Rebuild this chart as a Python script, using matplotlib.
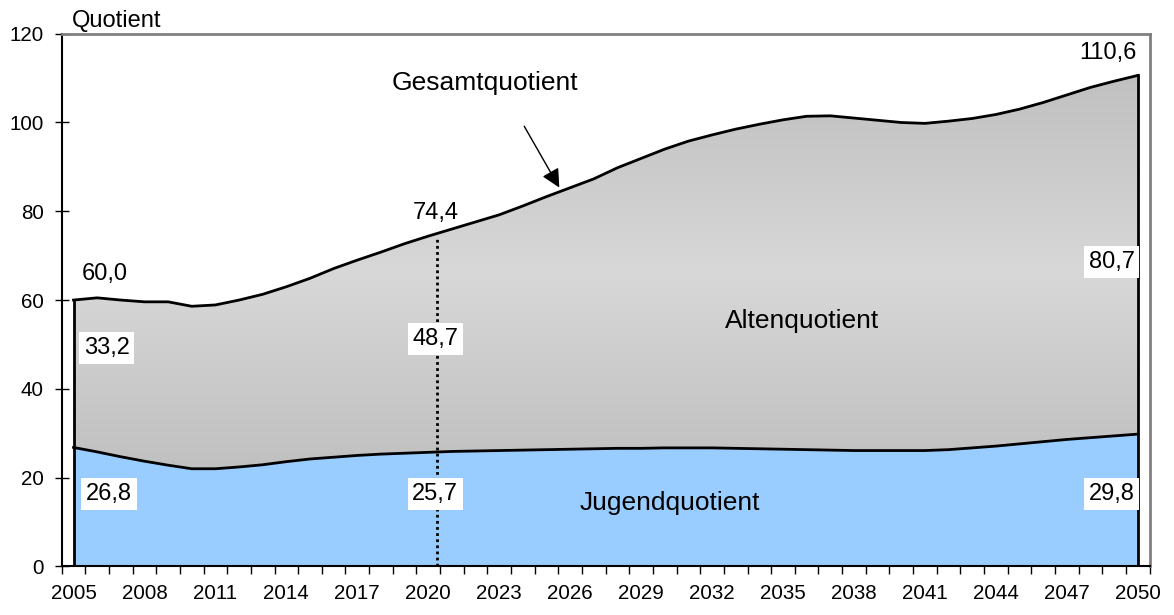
import matplotlib.pyplot as plt
import numpy as np

plt.rcParams['font.family'] = ['Liberation Sans', 'DejaVu Sans']

years = np.arange(2005, 2051)
gesamt = [60.0, 60.5, 60.0, 59.6, 59.6, 58.6, 58.9, 60.0, 61.3, 63.0,
          64.9, 67.1, 69.0, 70.8, 72.7, 74.4, 76.0, 77.6, 79.2, 81.2,
          83.3, 85.3, 87.3, 89.8, 91.9, 94.0, 95.8, 97.2, 98.5, 99.6,
          100.6, 101.4, 101.5, 101.0, 100.5, 100.0, 99.8, 100.3, 100.9, 101.8,
          103.0, 104.5, 106.2, 107.9, 109.3, 110.6]
jugend = [26.8, 25.8, 24.7, 23.7, 22.8, 22.0, 22.0, 22.4, 22.9, 23.6,
          24.2, 24.6, 25.0, 25.3, 25.5, 25.7, 25.9, 26.0, 26.1, 26.2,
          26.3, 26.4, 26.5, 26.6, 26.6, 26.7, 26.7, 26.7, 26.6, 26.5,
          26.4, 26.3, 26.2, 26.1, 26.1, 26.1, 26.1, 26.3, 26.7, 27.1,
          27.6, 28.1, 28.6, 29.0, 29.4, 29.8]

label_years = [2005, 2020, 2050]
gesamt_labels = ['60,0', '74,4', '110,6']
alten_labels = ['33,2', '48,7', '80,7']
jugend_labels = ['26,8', '25,7', '29,8']
tick_years = years[::3]

fig = plt.figure(figsize=(11.74, 6.15), dpi=100)
ax = fig.add_axes([0.05256, 0.0790, 0.9266, 0.8662])

# youth area
ax.fill_between(years, 0, jugend, color='#99CCFF', lw=0, zorder=1)

# old-age area with a centred grey gradient
lo, hi = min(jugend), max(gesamt)
yy = np.linspace(lo, hi, 256)
t = np.abs(yy - (lo + hi) / 2) / ((hi - lo) / 2)
shade = (216 - 24 * t) / 255
img = np.repeat(np.stack([shade] * 3, axis=-1)[:, None, :], 2, axis=1)
poly = ax.fill_between(years, jugend, gesamt, facecolor='none', lw=0)
im = ax.imshow(img, extent=[years[0], years[-1], lo, hi], origin='lower',
               aspect='auto', zorder=1, interpolation='bilinear')
im.set_clip_path(poly.get_paths()[0], ax.transData)

# outlines
ax.plot(years, gesamt, color='black', lw=2, zorder=3)
ax.plot(years, jugend, color='black', lw=2, zorder=3)
ax.plot([years[0], years[0]], [0, gesamt[0]], color='black', lw=2, zorder=3)
ax.plot([years[-1], years[-1]], [0, gesamt[-1]], color='black', lw=2, zorder=3)

# 2020 marker
mark_x = 2020.35
ax.plot([mark_x, mark_x], [0, gesamt[15]], color='black', lw=2,
        linestyle=(0, (1, 1.2)), zorder=3)

ax.set_xlim(2004.5, 2050.5)
ax.set_ylim(0, 120)

ax.set_yticks(np.arange(0, 121, 20))
ax.tick_params(axis='y', direction='inout', length=10, width=1, pad=8,
               labelsize=14.8)
ax.set_xticks(tick_years)
ax.set_xticks(np.arange(2004.5, 2051, 1), minor=True)
ax.tick_params(axis='x', which='major', length=0, pad=13, labelsize=14.8)
ax.tick_params(axis='x', which='minor', direction='out', length=6, width=1)

for s in ['left', 'bottom']:
    ax.spines[s].set_color('black')
    ax.spines[s].set_linewidth(1.5)
for s in ['top', 'right']:
    ax.spines[s].set_color('#808080')
    ax.spines[s].set_linewidth(2)

ax.text(2004.92, 121.6, 'Quotient', fontsize=17, va='baseline', ha='left')

# value labels
box = dict(facecolor='white', edgecolor='none', boxstyle='square,pad=0.2')
ax.text(2006.3, 65.9, gesamt_labels[0], fontsize=17, ha='center', va='center')
ax.text(2020.3, 79.6, gesamt_labels[1], fontsize=17, ha='center', va='center')
ax.text(2049.95, 115.6, gesamt_labels[2], fontsize=17, ha='right', va='center')

ax.text(2006.4, 49.2, alten_labels[0], fontsize=17, ha='center', va='center',
        bbox=box, zorder=4)
ax.text(2020.3, 51.2, alten_labels[1], fontsize=17, ha='center', va='center',
        bbox=box, zorder=4)
ax.text(2048.9, 68.6, alten_labels[2], fontsize=17, ha='center', va='center',
        bbox=box, zorder=4)

ax.text(2006.5, 16.3, jugend_labels[0], fontsize=17, ha='center', va='center',
        bbox=box, zorder=4)
ax.text(2020.3, 16.3, jugend_labels[1], fontsize=17, ha='center', va='center',
        bbox=box, zorder=4)
ax.text(2048.9, 16.3, jugend_labels[2], fontsize=17, ha='center', va='center',
        bbox=box, zorder=4)

ax.text(2022.4, 108.8, 'Gesamtquotient', fontsize=19, ha='center', va='center')
ax.text(2035.8, 55.3, 'Altenquotient', fontsize=19, ha='center', va='center')
ax.text(2030.2, 14.3, 'Jugendquotient', fontsize=19, ha='center', va='center')

ax.annotate('', xy=(2025.6, 84.8), xytext=(2024.0, 99.7),
            arrowprops=dict(arrowstyle='-|>', color='black', lw=1,
                            mutation_scale=28), zorder=5)

fig.savefig('out.png', dpi=100)
